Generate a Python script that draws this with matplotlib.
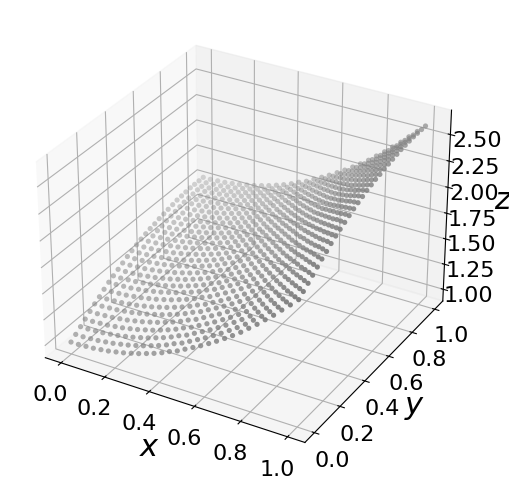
import matplotlib
matplotlib.use('Agg')
import matplotlib.pyplot as plt
import numpy as np

grid_values = [0, .034, .069, .103, .138, .172, .207, .241, .276, .310, .345, .379, .414, .448, .483,
               .517, .552, .586, .621, .655, .690, .724, .759, .793, .828, .862, .897, .931, .966, 1]
x_ticks = [0, .2, .4, .6, .8, 1]
y_ticks = [0, .2, .4, .6, .8, 1]
z_ticks = [1, 1.25, 1.5, 1.75, 2, 2.25, 2.5]

# z: one row per x value, one column per y value
z_table = [
[1.00,1.035,1.07,1.105,1.14,1.175,1.205,1.24,1.27,1.295,1.32,1.345,1.37,1.39,1.41,1.43,1.445,1.46,1.47,1.485,1.495,1.505,1.515,1.525,1.53,1.535,1.54,1.54,1.54,1.54],
[1.00,1.035,1.07,1.105,1.14,1.175,1.205,1.24,1.27,1.295,1.32,1.345,1.37,1.39,1.41,1.43,1.445,1.46,1.47,1.485,1.495,1.505,1.515,1.525,1.53,1.535,1.54,1.54,1.54,1.54],
[1.005,1.04,1.075,1.11,1.145,1.18,1.21,1.245,1.275,1.30,1.325,1.35,1.375,1.395,1.415,1.435,1.45,1.465,1.475,1.49,1.50,1.51,1.52,1.53,1.535,1.54,1.545,1.545,1.545,1.545],
[1.01,1.045,1.08,1.115,1.15,1.185,1.215,1.25,1.28,1.305,1.33,1.355,1.38,1.40,1.42,1.44,1.455,1.47,1.48,1.495,1.505,1.515,1.525,1.535,1.54,1.545,1.55,1.55,1.55,1.55],
[1.02,1.055,1.09,1.125,1.16,1.195,1.225,1.26,1.29,1.315,1.34,1.365,1.39,1.41,1.43,1.45,1.465,1.48,1.49,1.505,1.515,1.525,1.535,1.545,1.55,1.555,1.56,1.56,1.56,1.56],
[1.03,1.065,1.10,1.135,1.17,1.205,1.235,1.27,1.30,1.325,1.35,1.375,1.40,1.42,1.44,1.46,1.475,1.49,1.50,1.515,1.525,1.535,1.545,1.555,1.56,1.565,1.57,1.57,1.57,1.57],
[1.045,1.08,1.115,1.15,1.185,1.22,1.25,1.285,1.315,1.34,1.365,1.39,1.415,1.435,1.455,1.475,1.49,1.505,1.515,1.53,1.54,1.55,1.56,1.57,1.575,1.58,1.585,1.585,1.585,1.585],
[1.06,1.095,1.13,1.165,1.20,1.235,1.265,1.30,1.33,1.355,1.38,1.405,1.43,1.45,1.47,1.49,1.505,1.52,1.53,1.545,1.555,1.565,1.575,1.585,1.59,1.595,1.60,1.60,1.60,1.60],
[1.08,1.115,1.15,1.185,1.22,1.255,1.285,1.32,1.35,1.375,1.40,1.425,1.45,1.47,1.49,1.51,1.525,1.54,1.55,1.565,1.575,1.585,1.595,1.605,1.61,1.615,1.62,1.62,1.62,1.62],
[1.10,1.135,1.17,1.205,1.24,1.275,1.305,1.34,1.37,1.395,1.42,1.445,1.47,1.49,1.51,1.53,1.545,1.56,1.57,1.585,1.595,1.605,1.615,1.625,1.63,1.635,1.64,1.64,1.64,1.64],
[1.125,1.16,1.195,1.23,1.265,1.30,1.33,1.365,1.395,1.42,1.445,1.47,1.495,1.515,1.535,1.555,1.57,1.585,1.595,1.61,1.62,1.63,1.64,1.65,1.655,1.66,1.665,1.665,1.665,1.665],
[1.15,1.185,1.22,1.255,1.29,1.325,1.355,1.39,1.42,1.445,1.47,1.495,1.52,1.54,1.56,1.58,1.595,1.61,1.62,1.635,1.645,1.655,1.665,1.675,1.68,1.685,1.69,1.69,1.69,1.69],
[1.18,1.215,1.25,1.285,1.32,1.355,1.385,1.42,1.45,1.475,1.50,1.525,1.55,1.57,1.59,1.61,1.625,1.64,1.65,1.665,1.675,1.685,1.695,1.705,1.71,1.715,1.72,1.72,1.72,1.72],
[1.215,1.25,1.285,1.32,1.355,1.39,1.42,1.455,1.485,1.51,1.535,1.56,1.585,1.605,1.625,1.645,1.66,1.675,1.685,1.70,1.71,1.72,1.73,1.74,1.745,1.75,1.755,1.755,1.755,1.755],
[1.245,1.28,1.315,1.35,1.385,1.42,1.45,1.485,1.515,1.54,1.565,1.59,1.615,1.635,1.655,1.675,1.69,1.705,1.715,1.73,1.74,1.75,1.76,1.77,1.775,1.78,1.785,1.785,1.785,1.785],
[1.285,1.32,1.355,1.39,1.425,1.46,1.49,1.525,1.555,1.58,1.605,1.63,1.655,1.675,1.695,1.715,1.73,1.745,1.755,1.77,1.78,1.79,1.80,1.81,1.815,1.82,1.825,1.825,1.825,1.825],
[1.325,1.36,1.395,1.43,1.465,1.50,1.53,1.565,1.595,1.62,1.645,1.67,1.695,1.715,1.735,1.755,1.77,1.785,1.795,1.81,1.82,1.83,1.84,1.85,1.855,1.86,1.865,1.865,1.865,1.865],
[1.365,1.40,1.435,1.47,1.505,1.54,1.57,1.605,1.635,1.66,1.685,1.71,1.735,1.755,1.775,1.795,1.81,1.825,1.835,1.85,1.86,1.87,1.88,1.89,1.895,1.90,1.905,1.905,1.905,1.905],
[1.41,1.445,1.48,1.515,1.55,1.585,1.615,1.65,1.68,1.705,1.73,1.755,1.78,1.80,1.82,1.84,1.855,1.87,1.88,1.895,1.905,1.915,1.925,1.935,1.94,1.945,1.95,1.95,1.95,1.95],
[1.455,1.49,1.525,1.56,1.595,1.63,1.66,1.695,1.725,1.75,1.775,1.80,1.825,1.845,1.865,1.885,1.90,1.915,1.925,1.94,1.95,1.96,1.97,1.98,1.985,1.99,1.995,1.995,1.995,1.995],
[1.505,1.54,1.575,1.61,1.645,1.68,1.71,1.745,1.775,1.80,1.825,1.85,1.875,1.895,1.915,1.935,1.95,1.965,1.975,1.99,2.00,2.01,2.02,2.03,2.035,2.04,2.045,2.045,2.045,2.045],
[1.555,1.59,1.625,1.66,1.695,1.73,1.76,1.795,1.825,1.85,1.875,1.90,1.925,1.945,1.965,1.985,2.00,2.015,2.025,2.04,2.05,2.06,2.07,2.08,2.085,2.09,2.095,2.095,2.095,2.095],
[1.61,1.645,1.68,1.715,1.75,1.785,1.815,1.85,1.88,1.905,1.93,1.955,1.98,2.00,2.02,2.04,2.055,2.07,2.08,2.095,2.105,2.115,2.125,2.135,2.14,2.145,2.15,2.15,2.15,2.15],
[1.67,1.705,1.74,1.775,1.81,1.845,1.875,1.91,1.94,1.965,1.99,2.015,2.04,2.06,2.08,2.10,2.115,2.13,2.14,2.155,2.165,2.175,2.185,2.195,2.20,2.205,2.21,2.21,2.21,2.21],
[1.73,1.765,1.80,1.835,1.87,1.905,1.935,1.97,2.00,2.025,2.05,2.075,2.10,2.12,2.14,2.16,2.175,2.19,2.20,2.215,2.225,2.235,2.245,2.255,2.26,2.265,2.27,2.27,2.27,2.27],
[1.795,1.83,1.865,1.90,1.935,1.97,2.00,2.035,2.065,2.09,2.115,2.14,2.165,2.185,2.205,2.225,2.24,2.255,2.265,2.28,2.29,2.30,2.31,2.32,2.325,2.33,2.335,2.335,2.335,2.335],
[1.86,1.895,1.93,1.965,2.00,2.035,2.065,2.10,2.13,2.155,2.18,2.205,2.23,2.25,2.27,2.29,2.305,2.32,2.33,2.345,2.355,2.365,2.375,2.385,2.39,2.395,2.40,2.40,2.40,2.40],
[1.93,1.965,2.00,2.035,2.07,2.105,2.135,2.17,2.20,2.225,2.25,2.275,2.30,2.32,2.34,2.36,2.375,2.39,2.40,2.415,2.425,2.435,2.445,2.455,2.46,2.465,2.47,2.47,2.47,2.47],
[2.00,2.035,2.07,2.105,2.14,2.175,2.205,2.24,2.27,2.295,2.32,2.345,2.37,2.39,2.41,2.43,2.445,2.46,2.47,2.485,2.495,2.505,2.515,2.525,2.53,2.535,2.54,2.54,2.54,2.54],
[2.07,2.105,2.14,2.175,2.21,2.245,2.275,2.31,2.34,2.365,2.39,2.415,2.44,2.46,2.48,2.50,2.515,2.53,2.54,2.555,2.565,2.575,2.585,2.595,2.60,2.605,2.61,2.61,2.61,2.61],
]

X, Y = np.meshgrid(grid_values, grid_values, indexing='ij')
Z = np.array(z_table)

fig = plt.figure(figsize=(5.1, 4.9), dpi=100)
ax = fig.add_axes([0.02, 0.0375, 0.907, 0.943], projection='3d')
ax.scatter(X.ravel(), Y.ravel(), Z.ravel(), c='gray', s=14, linewidths=0)
ax.set_xlabel('$x$', fontsize=22, labelpad=4)
ax.set_ylabel('$y$', fontsize=22, labelpad=4)
ax.set_zlabel('$z$', fontsize=22, labelpad=4)
ax.tick_params(labelsize=16)
ax.set_xticks(x_ticks)
ax.set_yticks(y_ticks)
ax.set_zticks(z_ticks)
fig.savefig('out.png', dpi=100)
